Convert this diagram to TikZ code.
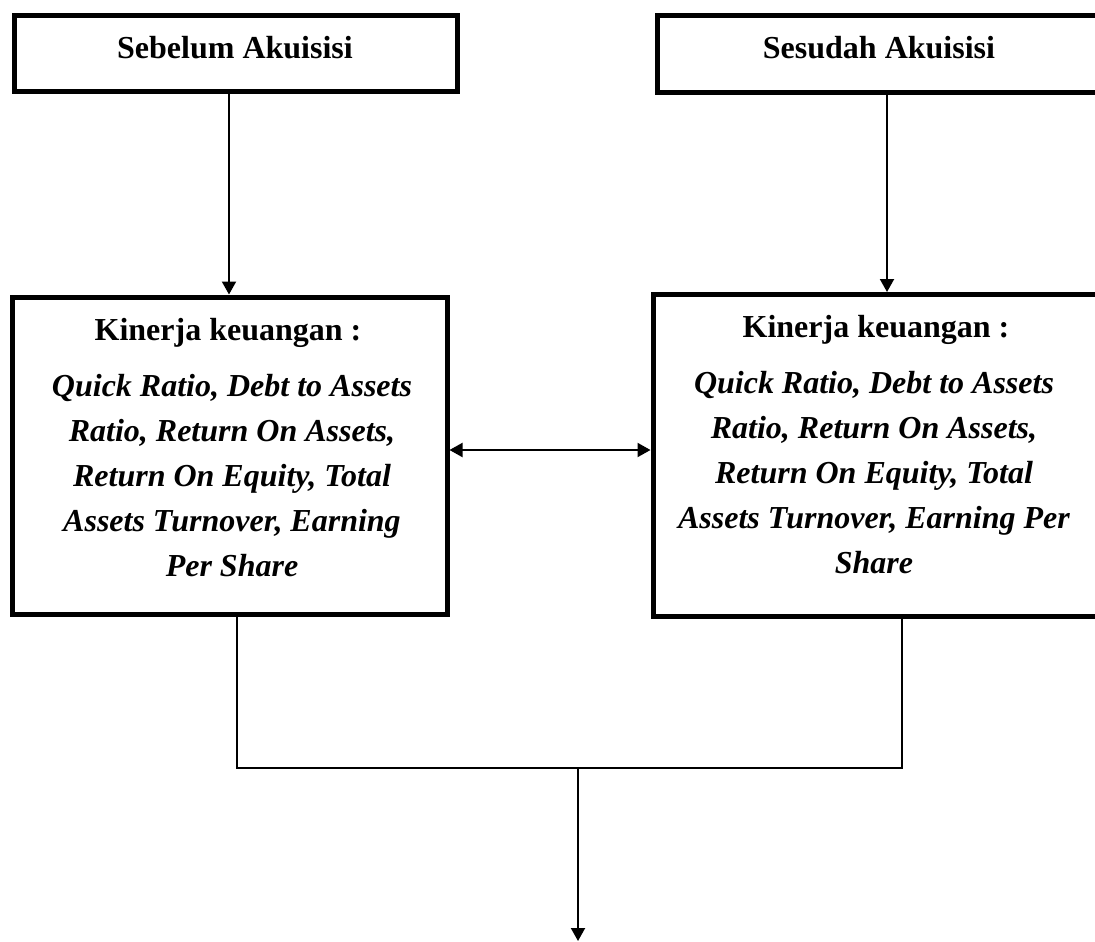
\documentclass[tikz,border=0pt]{standalone}
\usepackage{fontspec}
\setmainfont{Liberation Serif}
\usetikzlibrary{arrows.meta}
\begin{document}
\begin{tikzpicture}[x=1pt,y=-1pt,
  boxst/.style={draw=black,line width=5pt,rectangle,inner sep=0pt},
  txt/.style={inner sep=0pt,anchor=base,font=\fontsize{32}{45}\selectfont\bfseries},
  itxt/.style={inner sep=0pt,anchor=base,font=\fontsize{32}{45}\selectfont\bfseries\itshape},
  conn/.style={line width=2pt,-{Triangle[length=13pt,width=14pt]}},
  dconn/.style={line width=2pt,{Triangle[length=13pt,width=14pt]}-{Triangle[length=13pt,width=14pt]}},
  plain/.style={line width=1.5pt}]
\useasboundingbox (0,0) rectangle (1095,942);
\clip (0,0) rectangle (1095,942);
\fill[white] (0,0) rectangle (1095,942);
% boxes
\node[boxst,minimum width=442.5pt,minimum height=75.5pt] (box1) at (235.75,53.75) {};
\node[boxst,minimum width=447.5pt,minimum height=76pt] (box2) at (881.25,54) {};
\node[boxst,minimum width=434.5pt,minimum height=317.5pt] (box3) at (229.75,455.75) {};
\node[boxst,minimum width=452pt,minimum height=321.5pt] (box4) at (879,455.25) {};
% texts
\node[txt] (t1) at (235,59) {Sebelum Akuisisi};
\node[txt] (t2) at (879,59) {Sesudah Akuisisi};
\node[txt] (k3) at (228,340) {Kinerja keuangan :};
\node[txt] (k4) at (876,337) {Kinerja keuangan :};
\node[itxt] (q3) at (232,396) {\parbox[t]{420pt}{\centering Quick Ratio, Debt to Assets\\ Ratio, Return On Assets,\\ Return On Equity, Total\\ Assets Turnover, Earning\\ Per Share}};
\node[itxt] (q4) at (874,393) {\parbox[t]{440pt}{\centering Quick Ratio, Debt to Assets\\ Ratio, Return On Assets,\\ Return On Equity, Total\\ Assets Turnover, Earning Per\\ Share}};
% helper coordinates
\coordinate (xa) at (229,0);
\coordinate (xb) at (887,0);
\coordinate (ya) at (0,450);
\coordinate (xc) at (237,0);
\coordinate (xd) at (902,0);
\coordinate (jn) at (578,768);
\coordinate (end) at (578,941);
% connectors
\draw[conn] (box1.south -| xa) -- (box3.north -| xa);
\draw[conn] (box2.south -| xb) -- (box4.north -| xb);
\draw[dconn] (box3.east |- ya) -- (box4.west |- ya);
\draw[plain] (box3.south -| xc) -- (xc |- jn) -- (xd |- jn) -- (box4.south -| xd);
\draw[conn] (jn) -- (end);
\end{tikzpicture}
\end{document}
